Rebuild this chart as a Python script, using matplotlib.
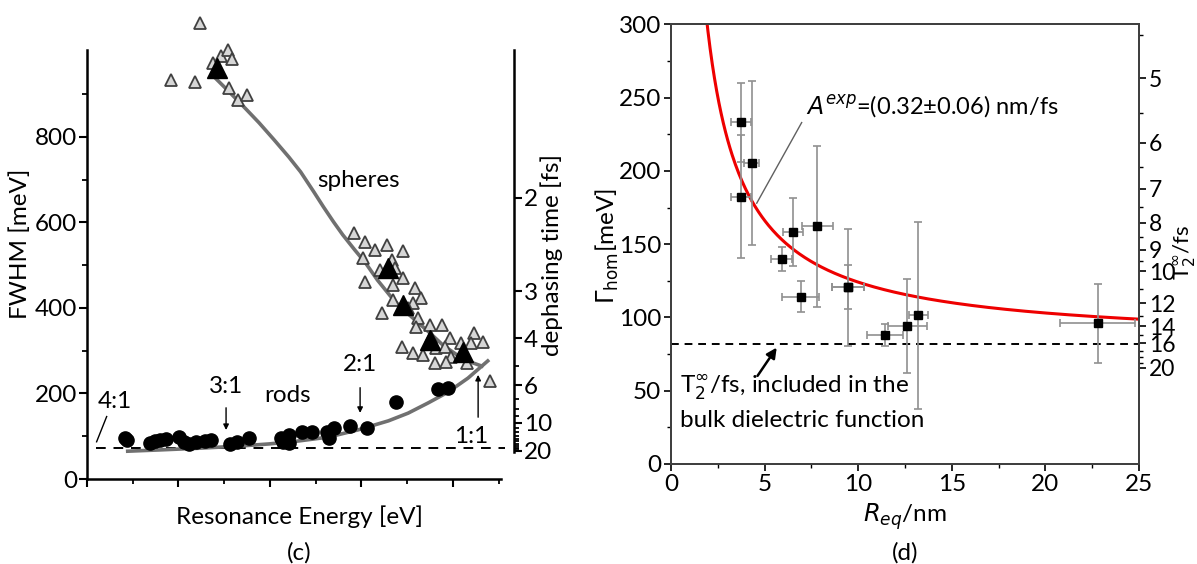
"""
Two-panel linewidth figure: (c) FWHM of rods/spheres vs resonance energy,
(d) homogeneous linewidth vs equivalent radius with 1/R fit.
"""
import matplotlib
matplotlib.use("Agg")
import matplotlib.pyplot as plt
import numpy as np

plt.rcParams["font.family"] = ["Lato", "DejaVu Sans"]
plt.rcParams["mathtext.fontset"] = "dejavusans"

HBAR2 = 1316.0   # 2*hbar in meV*fs  (T2 = 2hbar / Gamma)

# ── panel (c) data ───────────────────────────────────────────────────────────
rod_E = [1.283, 1.287, 1.337, 1.348, 1.359, 1.372, 1.402, 1.413, 1.422, 1.439,
         1.457, 1.472, 1.513, 1.528, 1.554, 1.624, 1.628, 1.641, 1.641, 1.670,
         1.691, 1.724, 1.728, 1.739, 1.774, 1.811, 1.876, 1.967, 1.989]
rod_fwhm = [97, 91, 84, 89, 91, 94, 98, 87, 82, 87,
            89, 91, 82, 87, 96, 96, 87, 103, 84, 110,
            110, 110, 96, 119, 124, 119, 180, 211, 213]

sph_E = [1.447, 1.384, 1.436, 1.475, 1.493, 1.509, 1.517, 1.511, 1.531, 1.549,
         1.783, 1.808, 1.830, 1.855, 1.891, 1.804, 1.841, 1.866, 1.873, 1.891,
         1.808, 1.870, 1.917, 1.931, 1.913, 1.844, 1.870, 1.902, 1.924, 1.949,
         1.975, 1.920, 1.953, 1.993, 1.888, 1.913, 1.935, 1.964, 1.982, 1.996,
         1.960, 1.985, 2.047, 2.065, 2.040, 2.017, 2.030, 2.080]
sph_fwhm = [1066, 933, 929, 972, 988, 1003, 982, 914, 886, 898,
            575, 555, 536, 547, 532, 516, 489, 512, 493, 469,
            461, 454, 446, 423, 411, 388, 419, 399, 376, 360,
            360, 356, 333, 329, 309, 294, 290, 306, 309, 286,
            271, 274, 341, 321, 317, 318, 271, 228]

sph_mean_E = [1.485, 1.859, 1.891, 1.949, 2.022]
sph_mean_fwhm = [961, 493, 407, 325, 298]

rod_fit_E = [1.289, 1.359, 1.446, 1.533, 1.598, 1.663, 1.728, 1.793, 1.859,
             1.902, 1.946, 1.989, 2.033, 2.076]
rod_fit_fwhm = [65, 68, 72, 77, 82, 89, 98, 115, 136, 154, 178, 203, 236, 276]

sph_fit_E = [1.480, 1.511, 1.543, 1.576, 1.609, 1.641, 1.667, 1.696, 1.717,
             1.739, 1.759, 1.785, 1.809, 1.835, 1.863, 1.885, 1.917, 1.950,
             1.978, 2.009, 2.037, 2.063]
sph_fit_fwhm = [938, 905, 870, 833, 793, 753, 718, 671, 636, 601, 571, 536,
                505, 465, 428, 402, 372, 341, 313, 290, 274, 264]

bulk_fwhm_c = 73
dephase_major = [2, 3, 4, 6, 10, 20]
dephase_minor = [5, 7, 8, 9, 11, 12, 13, 14, 15, 16, 17, 18, 19]

# ── panel (d) data ───────────────────────────────────────────────────────────
R_eq = [3.72, 4.31, 3.72, 6.53, 7.82, 5.91, 6.93, 9.47, 9.45, 11.43, 12.62, 13.21, 22.8]
R_err = [0.53, 0.40, 0.53, 0.53, 0.83, 0.56, 1.0, 0.85, 0.85, 0.98, 1.03, 0.52, 2.0]
gamma_hom = [233.2, 205.5, 182.3, 158.3, 162.2, 140.1, 114.3, 120.7, 121.0,
             88.2, 94.3, 101.4, 96.1]
gamma_err = [27, 56, 42, 23, 55, 8.2, 10.7, 40, 15, 7.5, 32, 64, 27]

A_EXP = 0.32        # nm/fs
GAMMA_BULK = 82     # meV
t2_major = [5, 6, 7, 8, 9, 10, 12, 14, 16, 20]
t2_minor = [4.5, 5.5, 6.5, 7.5, 8.5, 9.5, 11, 13, 15, 17, 18, 19]

W, H = 1197, 564
FS_C = 17.5     # text size, panel (c)
FS_D = 17.5     # text size, panel (d)


def fx(px):
    return px / W


def fy(py):
    return 1 - py / H


def _panel_c(fig):
    ax = fig.add_axes([fx(87), fy(479), fx(501) - fx(87), fy(50) - fy(479)])
    ax.set_xlim(1.2, 2.105)
    ax.set_ylim(0, 1003)
    for s in ("top", "right"):
        ax.spines[s].set_visible(False)
    for s in ("left", "bottom"):
        ax.spines[s].set_linewidth(1.8)
    ax.set_xticks([1.2, 1.4, 1.6, 1.8, 2.0])
    ax.set_xticks([1.3, 1.5, 1.7, 1.9, 2.1], minor=True)
    ax.set_xticklabels([])
    ax.set_yticks([0, 200, 400, 600, 800])
    ax.set_yticks([100, 300, 500, 700, 900], minor=True)
    ax.tick_params(which="major", length=6, width=1.5, labelsize=FS_C, pad=1)
    ax.tick_params(which="minor", length=3.5, width=1.3)

    ax.plot(rod_fit_E, rod_fit_fwhm, color="#707070", lw=2.6, zorder=2)
    ax.plot(sph_fit_E, sph_fit_fwhm, color="#707070", lw=2.6, zorder=2)
    ax.plot([1.22, 2.113], [bulk_fwhm_c, bulk_fwhm_c], color="black", lw=1.4,
            ls=(0, (5, 4)), clip_on=False, zorder=1)
    ax.plot(rod_E, rod_fwhm, "o", color="black", ms=9.5, zorder=3)
    ax.plot(sph_E, sph_fwhm, "^", mfc="#d6d6d6", mec="#404040", mew=1.3, ms=9,
            ls="none", clip_on=False, zorder=3)
    ax.plot(sph_mean_E, sph_mean_fwhm, "^", color="black", ms=15, ls="none",
            clip_on=False, zorder=4)

    # aspect-ratio labels
    ax.text(1.793, 699, "spheres", fontsize=FS_C, ha="center", va="center")
    ax.text(1.639, 196, "rods", fontsize=FS_C, ha="center", va="center")
    ax.text(1.261, 182, "4:1", fontsize=FS_C, ha="center", va="center")
    ax.plot([1.243, 1.221], [146, 87], color="black", lw=1)
    for label, xt, yt, y0, y1 in [("3:1", 1.504, 216, 173, 108),
                                  ("2:1", 1.797, 267, 220, 148),
                                  ("1:1", 2.04, 99, 138, 250)]:
        ax.text(xt, yt, label, fontsize=FS_C, ha="center", va="center")
        xa = 2.055 if label == "1:1" else xt
        ax.annotate("", xy=(xa, y1), xytext=(xa, y0),
                    arrowprops=dict(arrowstyle="-|>", color="black", lw=1,
                                    mutation_scale=8))

    # dephasing time axis on the right
    ax2 = ax.twinx()
    ax2.set_ylim(ax.get_ylim())
    for s in ("top", "left", "bottom"):
        ax2.spines[s].set_visible(False)
    ax2.spines["right"].set_position(("axes", 1.031))
    ax2.spines["right"].set_bounds(HBAR2 / 21, 1003)
    ax2.spines["right"].set_linewidth(1.8)
    ax2.set_yticks([HBAR2 / t for t in dephase_major])
    ax2.set_yticklabels([str(t) for t in dephase_major])
    ax2.set_yticks([HBAR2 / t for t in dephase_minor], minor=True)
    ax2.tick_params(which="major", length=6, width=1.5, labelsize=FS_C, pad=1)
    ax2.tick_params(which="minor", length=3.5, width=1.3)

    fig.text(fx(20), fy(244), "FWHM [meV]", rotation=90, fontsize=FS_C,
             ha="center", va="center")
    fig.text(fx(552), fy(255), "dephasing time [fs]", rotation=90,
             fontsize=FS_C, ha="center", va="center")
    fig.text(fx(299), fy(517), "Resonance Energy [eV]", fontsize=FS_C,
             ha="center", va="center")
    fig.text(fx(299), fy(553), "(c)", fontsize=FS_C, ha="center", va="center")


def _panel_d(fig):
    ax = fig.add_axes([fx(671), fy(464), fx(1139) - fx(671), fy(24.4) - fy(464)])
    ax.set_xlim(0, 25)
    ax.set_ylim(0, 300)
    for s in ax.spines.values():
        s.set_linewidth(1.4)
        s.set_color("#404040")
    ax.set_xticks([0, 5, 10, 15, 20, 25])
    ax.set_xticks([2.5, 7.5, 12.5, 17.5, 22.5], minor=True)
    ax.set_yticks([0, 50, 100, 150, 200, 250, 300])
    ax.set_yticks([25, 75, 125, 175, 225, 275], minor=True)
    ax.tick_params(which="major", length=5, width=1.2, labelsize=FS_D, pad=2)
    ax.tick_params(which="minor", length=3, width=1.0)

    r_fit = np.linspace(1.5, 25, 400)
    ax.plot(r_fit, GAMMA_BULK + HBAR2 * A_EXP / r_fit, color="#ee0000", lw=2.2,
            zorder=3)
    ax.axhline(GAMMA_BULK, color="black", lw=1.4, ls=(0, (4, 3)), zorder=2)
    ax.errorbar(R_eq, gamma_hom, xerr=R_err, yerr=gamma_err, fmt="s",
                color="black", ms=6, ecolor="#909090", elinewidth=1.2,
                capsize=3, capthick=1.2, zorder=4)

    ax.text(7.19, 244, r"$A^{exp}$=(0.32±0.06) nm/fs", fontsize=FS_D - 0.5,
            ha="left", va="center")
    ax.plot([6.98, 4.58], [233, 178], color="#606060", lw=1, zorder=5)
    ax.text(0.48, 52, r"T$_2^{\infty}$/fs, included in the", fontsize=FS_D,
            ha="left", va="center")
    ax.text(0.48, 30, "bulk dielectric function", fontsize=FS_D,
            ha="left", va="center")
    ax.annotate("", xy=(5.73, 81), xytext=(4.54, 58.6),
                arrowprops=dict(arrowstyle="-|>", color="black", lw=1.8,
                                mutation_scale=15))

    ax2 = ax.twinx()
    ax2.set_ylim(ax.get_ylim())
    ax2.set_yticks([HBAR2 / t for t in t2_major])
    ax2.set_yticklabels([str(t) for t in t2_major])
    ax2.set_yticks([HBAR2 / t for t in t2_minor], minor=True)
    ax2.tick_params(which="major", length=5, width=1.2, labelsize=FS_D - 1,
                    pad=2)
    ax2.tick_params(which="minor", length=3, width=1.0)
    for s in ax2.spines.values():
        s.set_linewidth(1.4)
        s.set_color("#404040")

    fig.text(fx(607), fy(246), r"$\Gamma_{\mathrm{hom}}$[meV]", rotation=90,
             fontsize=FS_D, ha="center", va="center")
    fig.text(fx(1185), fy(252), r"T$_2^{\infty}$/fs", rotation=90,
             fontsize=16, ha="center", va="center")
    fig.text(fx(905), fy(517), r"$R_{eq}$/nm", fontsize=FS_D, ha="center",
             va="center")
    fig.text(fx(905), fy(553), "(d)", fontsize=FS_D, ha="center", va="center")


def main():
    fig = plt.figure(figsize=(W / 100, H / 100), dpi=100)
    _panel_c(fig)
    _panel_d(fig)
    fig.savefig("out.png", dpi=100, facecolor="white")


if __name__ == "__main__":
    main()
